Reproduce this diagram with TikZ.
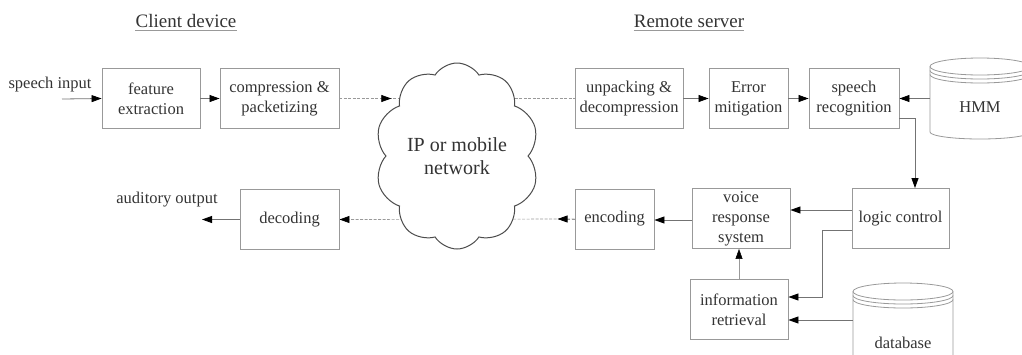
\documentclass[tikz,border=0pt]{standalone}
\usepackage{fontspec}
\setmainfont{Liberation Serif}
\usetikzlibrary{arrows.meta}
\usetikzlibrary{shapes.symbols, backgrounds}
\usetikzlibrary{positioning}
\definecolor{boxgray}{gray}{0.6}
\definecolor{linegray}{gray}{0.45}
\definecolor{inkgray}{gray}{0.2}

\begin{document}
\begin{tikzpicture}[x=1pt, y=-1pt, % Pixel-Raster des Originals
  every node/.style={text=inkgray, font=\fontsize{16.5}{20}\selectfont},
  block/.style={draw=boxgray, line width=0.9pt, align=center, minimum height=60, inner sep=2pt},
  tip/.style={-{Triangle[length=10pt,width=7pt,color=black]}},
  arrow/.style={draw=linegray, line width=0.8pt, tip},
  netline/.style={draw=boxgray, dash pattern=on 3pt off 1.5pt, line width=0.7pt},
  cyl/.style={draw=boxgray, line width=0.8pt},
  title/.style={inner sep=0pt, font=\fontsize{19}{22}\selectfont},
  uline/.style={draw=boxgray, line width=1.2pt}]

\useasboundingbox (0,0) rectangle (1022,354);

% Ueberschriften
\node[title] (client) at (186,21) {Client device};
\node[title] (server) at (689,21) {Remote server};
\draw[uline] ([yshift=-3]client.base west) -- ([yshift=-3]client.base east);
\draw[uline] ([yshift=-3]server.base west) -- ([yshift=-3]server.base east);

% Client
\node[block, minimum width=98] (feat) at (151,98.5) {feature\\extraction};
\node[block, minimum width=119] (comp) at (279.5,98.5) {compression \&\\packetizing};
\node[block, minimum width=99] (dec) at (289.5,219.5) {decoding};
\node (in) at (50,85) {speech input};
\node (out) at (167,200) {auditory output};
\coordinate (inend) at (62,99);
\coordinate (outend) at (202,219.5);

% Netz
\node[cloud, draw=black!70, fill=white, line width=1pt, cloud puffs=10, cloud puff arc=115,
  cloud ignores aspect, minimum width=164, minimum height=186, align=center, inner sep=0pt,
  font=\fontsize{20}{23}\selectfont] (net) at (457,156) {IP or mobile\\network};

% Server
\node[block, minimum width=108] (unpack) at (629,98.5) {unpacking \&\\decompression};
\node[block, minimum width=79] (err) at (748.5,98.5) {Error\\mitigation};
\node[block, minimum width=90] (rec) at (854,98.5) {speech\\recognition};
\node[block, minimum width=97] (logic) at (900.5,218.5) {logic control};
\node[block, minimum width=98] (voice) at (741,218.5) {voice\\response\\system};
\node[block, minimum width=79] (enc) at (614.5,219) {encoding};
\node[block, minimum width=98] (info) at (739,309.5) {information\\retrieval};

% Datenspeicher (Zylinder)
\node[minimum width=100, minimum height=56] (hmm) at (980,107) {HMM};
\node[minimum width=100, minimum height=40] (db) at (903,343) {database};
\foreach \cx/\ty/\by in {980/66.5/132, 903/291.5/362} {
  \draw[cyl] (\cx-50,\ty) -- (\cx-50,\by) arc[start angle=180, end angle=0, x radius=50, y radius=7] -- (\cx+50,\ty);
  \draw[cyl] (\cx,\ty) ellipse[x radius=50, y radius=8.5];
  \foreach \d in {4,8}
    \draw[cyl] (\cx-50,\ty+\d) arc[start angle=180, end angle=0, x radius=50, y radius=8.5];
}

% Verbindungen
\draw[arrow] (inend) -- (feat.west);
\draw[arrow] (feat) -- (comp);
\draw[arrow] (unpack) -- (err);
\draw[arrow] (err) -- (rec);
\draw[arrow] (hmm.west |- rec.east) -- (rec.east);
\draw[arrow] ([yshift=-20]rec.east) -| ([xshift=14.5]logic.north);
\draw[arrow] ([yshift=8.5]logic.west) -- ([yshift=8.5]voice.east);
\draw[arrow] ([yshift=-11.5]logic.west) -| ++(-29,67) -- ([yshift=12.5]info.east);
\draw[arrow] ([yshift=-10.5]info.east -| db.west) -- ([yshift=-10.5]info.east);
\draw[draw=boxgray, line width=0.5pt, tip] (info.north) -- (info.north |- voice.south);
\draw[arrow] ([yshift=-1.5]voice.west) -- ([yshift=-1.5]voice.west -| enc.east);
\draw[arrow] (dec.west) -- (outend);

% gestrichelte Netzstrecken (hinter der Wolke)
\begin{scope}[on background layer]
  \draw[netline] (comp.east) -- (unpack.west);
  \draw[netline, tip] (comp.east) -- ([xshift=6]net.west |- comp.east);
  \draw[netline, tip] (enc.west) -- (dec.east);
  \draw[netline, tip] (enc.west) -- ([xshift=-17]enc.west);
\end{scope}

\end{tikzpicture}
\end{document}
